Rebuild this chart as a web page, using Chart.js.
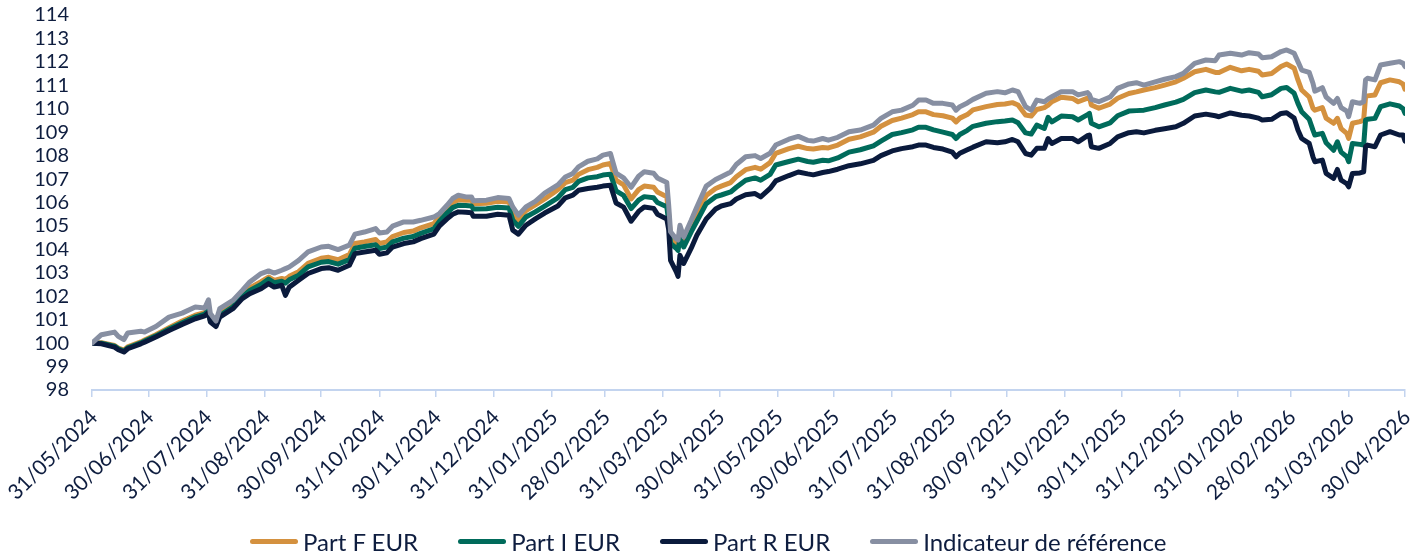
<!DOCTYPE html>
<html lang="fr">
<head>
<meta charset="utf-8">
<title>Performance base 100</title>
<script src="https://cdn.jsdelivr.net/npm/chart.js@4.4.1/dist/chart.umd.min.js"></script>
<style>
  html, body { margin: 0; padding: 0; background: #fff; }
  #wrap { position: relative; width: 1424px; height: 555px; }
  #legend {
    position: absolute; left: 250px; top: 526px; height: 30px;
    display: flex; align-items: center;
    font: 24px Lato, sans-serif; color: #0e1d3f; white-space: nowrap;
  }
  .item { display: flex; align-items: center; margin-right: 40px; }
  .swatch { width: 48px; height: 5px; border-radius: 3px; margin-right: 5px; }
</style>
</head>
<body>
<div id="wrap">
  <canvas id="chart"></canvas>
  <div id="legend"></div>
</div>
<script>
// Dates des points relevés (jj/mm/aaaa)
const dates = [
  // juin 2024 -> janvier 2025
  '31/05/2024','05/06/2024','12/06/2024','14/06/2024','17/06/2024','19/06/2024','26/06/2024','28/06/2024','04/07/2024','11/07/2024',
  '18/07/2024','25/07/2024','30/07/2024','01/08/2024','02/08/2024','05/08/2024','07/08/2024','14/08/2024','19/08/2024','23/08/2024',
  '29/08/2024','02/09/2024','05/09/2024','09/09/2024','11/09/2024','13/09/2024','18/09/2024','23/09/2024','30/09/2024','04/10/2024',
  '09/10/2024','15/10/2024','18/10/2024','23/10/2024','29/10/2024','31/10/2024','04/11/2024','07/11/2024','13/11/2024','18/11/2024',
  '22/11/2024','29/11/2024','02/12/2024','06/12/2024','09/12/2024','12/12/2024','16/12/2024','19/12/2024','20/12/2024','27/12/2024',
  '02/01/2025','08/01/2025','10/01/2025','13/01/2025','17/01/2025','22/01/2025',
  // fin janvier 2025 -> mi-septembre 2025
  '27/01/2025','03/02/2025','07/02/2025','11/02/2025','14/02/2025','19/02/2025','24/02/2025','27/02/2025','03/03/2025','06/03/2025',
  '10/03/2025','14/03/2025','18/03/2025','21/03/2025','26/03/2025','28/03/2025','02/04/2025','03/04/2025','04/04/2025','07/04/2025',
  '08/04/2025','09/04/2025','11/04/2025','15/04/2025','18/04/2025','23/04/2025','28/04/2025','01/05/2025','06/05/2025','09/05/2025',
  '14/05/2025','19/05/2025','22/05/2025','27/05/2025','30/05/2025','06/06/2025','11/06/2025','16/06/2025','19/06/2025','24/06/2025',
  '27/06/2025','02/07/2025','08/07/2025','14/07/2025','21/07/2025','25/07/2025','31/07/2025','05/08/2025','11/08/2025','14/08/2025',
  '18/08/2025','22/08/2025','27/08/2025','01/09/2025','03/09/2025','05/09/2025','09/09/2025','12/09/2025',
  // mi-septembre 2025 -> avril 2026
  '19/09/2025','25/09/2025','29/09/2025','03/10/2025','06/10/2025','10/10/2025','13/10/2025','16/10/2025','20/10/2025','22/10/2025',
  '24/10/2025','29/10/2025','04/11/2025','07/11/2025','12/11/2025','13/11/2025','14/11/2025','18/11/2025','24/11/2025','28/11/2025',
  '04/12/2025','08/12/2025','12/12/2025','18/12/2025','23/12/2025','29/12/2025','02/01/2026','08/01/2026','14/01/2026','19/01/2026',
  '21/01/2026','27/01/2026','02/02/2026','06/02/2026','11/02/2026','13/02/2026','18/02/2026','23/02/2026','26/02/2026','02/03/2026',
  '04/03/2026','06/03/2026','10/03/2026','12/03/2026','13/03/2026','17/03/2026','19/03/2026','23/03/2026','25/03/2026','27/03/2026',
  '30/03/2026','31/03/2026','02/04/2026','06/04/2026','08/04/2026','09/04/2026','10/04/2026','14/04/2026','17/04/2026','22/04/2026',
  '27/04/2026','29/04/2026','30/04/2026'
];

const partF = [
  100.00, 100.02, 99.90, 99.79, 99.70, 99.84, 100.05, 100.13, 100.36, 100.66,
  100.94, 101.19, 101.30, 101.50, 101.00, 100.82, 101.24, 101.62, 102.05, 102.35,
  102.62, 102.82, 102.68, 102.76, 102.72, 102.85, 103.05, 103.40, 103.62, 103.66,
  103.56, 103.78, 104.25, 104.32, 104.42, 104.25, 104.32, 104.55, 104.72, 104.78,
  104.92, 105.10, 105.40, 105.75, 106.00, 106.12, 106.10, 106.10, 105.95, 105.97,
  106.05, 106.02, 105.55, 105.25, 105.65, 105.90,
  106.15, 106.55, 106.85, 106.95, 107.20, 107.40, 107.50, 107.60, 107.67, 106.95,
  106.75, 106.15, 106.55, 106.70, 106.65, 106.45, 106.25, 105.50, 104.50, 104.25,
  104.20, 104.80, 104.35, 105.10, 105.55, 106.30, 106.60, 106.70, 106.85, 107.10,
  107.40, 107.50, 107.42, 107.70, 108.10, 108.30, 108.40, 108.30, 108.28, 108.35,
  108.33, 108.45, 108.70, 108.80, 109.00, 109.25, 109.50, 109.60, 109.75, 109.87,
  109.87, 109.75, 109.70, 109.60, 109.44, 109.60, 109.75, 109.95,
  110.09, 110.18, 110.20, 110.26, 110.16, 109.73, 109.69, 109.97, 110.05, 110.15,
  110.30, 110.49, 110.44, 110.30, 110.45, 110.49, 110.16, 110.02, 110.20, 110.45,
  110.65, 110.72, 110.80, 110.90, 111.01, 111.15, 111.30, 111.58, 111.68, 111.55,
  111.55, 111.77, 111.62, 111.68, 111.60, 111.44, 111.50, 111.80, 111.91, 111.73,
  111.23, 110.80, 110.50, 110.02, 109.94, 110.05, 109.60, 109.38, 109.59, 109.15,
  108.95, 108.73, 109.38, 109.45, 109.52, 110.51, 110.55, 110.59, 111.11, 111.23,
  111.15, 111.05, 110.83
];

const partI = [
  100.00, 100.00, 99.87, 99.76, 99.66, 99.80, 100.01, 100.09, 100.31, 100.60,
  100.87, 101.12, 101.24, 101.42, 100.95, 100.77, 101.18, 101.55, 101.98, 102.25,
  102.50, 102.73, 102.58, 102.64, 102.56, 102.70, 102.90, 103.25, 103.45, 103.48,
  103.37, 103.56, 104.05, 104.12, 104.20, 104.03, 104.10, 104.32, 104.48, 104.55,
  104.68, 104.88, 105.20, 105.55, 105.78, 105.88, 105.87, 105.85, 105.72, 105.73,
  105.80, 105.77, 105.25, 104.98, 105.38, 105.60,
  105.85, 106.20, 106.55, 106.65, 106.90, 107.05, 107.10, 107.17, 107.21, 106.50,
  106.30, 105.74, 106.10, 106.25, 106.20, 106.00, 105.82, 105.20, 104.25, 104.05,
  103.95, 104.50, 104.10, 104.75, 105.20, 105.95, 106.25, 106.32, 106.45, 106.65,
  106.95, 107.05, 106.95, 107.20, 107.60, 107.75, 107.85, 107.75, 107.72, 107.80,
  107.78, 107.90, 108.15, 108.25, 108.42, 108.62, 108.90, 108.98, 109.10, 109.21,
  109.21, 109.10, 109.00, 108.90, 108.73, 108.90, 109.08, 109.25,
  109.38, 109.45, 109.48, 109.52, 109.40, 108.97, 108.92, 109.30, 109.16, 109.63,
  109.44, 109.69, 109.66, 109.52, 109.75, 109.80, 109.38, 109.23, 109.40, 109.70,
  109.90, 109.92, 109.94, 110.05, 110.16, 110.28, 110.40, 110.69, 110.80, 110.72,
  110.70, 110.87, 110.75, 110.80, 110.70, 110.51, 110.60, 110.87, 110.91, 110.66,
  110.23, 109.87, 109.55, 109.09, 108.88, 108.95, 108.55, 108.23, 108.59, 108.15,
  107.95, 107.74, 108.52, 108.48, 108.45, 109.52, 109.55, 109.59, 110.09, 110.21,
  110.12, 110.00, 109.80
];

const partR = [
  100.00, 99.97, 99.83, 99.72, 99.62, 99.76, 99.97, 100.04, 100.26, 100.54,
  100.80, 101.04, 101.16, 101.30, 100.90, 100.71, 101.11, 101.47, 101.90, 102.11,
  102.32, 102.54, 102.39, 102.47, 102.04, 102.39, 102.68, 102.97, 103.18, 103.22,
  103.11, 103.32, 103.82, 103.89, 103.96, 103.79, 103.85, 104.10, 104.25, 104.32,
  104.46, 104.65, 105.00, 105.30, 105.50, 105.60, 105.58, 105.56, 105.41, 105.41,
  105.50, 105.46, 104.82, 104.65, 105.03, 105.30,
  105.55, 105.85, 106.20, 106.31, 106.52, 106.60, 106.65, 106.70, 106.74, 105.98,
  105.80, 105.20, 105.62, 105.81, 105.75, 105.50, 105.30, 104.85, 103.53, 103.05,
  102.85, 103.75, 103.40, 104.05, 104.60, 105.30, 105.72, 105.85, 105.95, 106.15,
  106.33, 106.38, 106.24, 106.60, 106.92, 107.15, 107.30, 107.22, 107.18, 107.28,
  107.32, 107.42, 107.57, 107.65, 107.80, 108.00, 108.20, 108.30, 108.38, 108.45,
  108.45, 108.35, 108.28, 108.15, 107.95, 108.10, 108.25, 108.36,
  108.59, 108.55, 108.59, 108.69, 108.59, 108.09, 108.02, 108.31, 108.31, 108.73,
  108.52, 108.73, 108.73, 108.59, 108.85, 108.88, 108.38, 108.31, 108.52, 108.80,
  108.98, 109.02, 108.97, 109.08, 109.15, 109.23, 109.38, 109.69, 109.77, 109.70,
  109.66, 109.82, 109.72, 109.69, 109.60, 109.52, 109.55, 109.80, 109.83, 109.60,
  109.09, 108.73, 108.52, 107.95, 107.74, 107.81, 107.24, 107.03, 107.41, 106.95,
  106.80, 106.67, 107.24, 107.26, 107.31, 108.38, 108.45, 108.38, 108.88, 109.02,
  108.88, 108.88, 108.62
];

const indicateur = [
  100.00, 100.36, 100.47, 100.29, 100.15, 100.43, 100.51, 100.47, 100.71, 101.11,
  101.28, 101.54, 101.50, 101.85, 101.26, 100.94, 101.47, 101.82, 102.25, 102.61,
  102.97, 103.08, 102.99, 103.11, 103.18, 103.25, 103.53, 103.89, 104.10, 104.13,
  103.99, 104.18, 104.65, 104.74, 104.89, 104.70, 104.74, 104.99, 105.17, 105.17,
  105.24, 105.38, 105.53, 105.88, 106.17, 106.31, 106.24, 106.24, 106.07, 106.10,
  106.21, 106.17, 105.81, 105.46, 105.81, 106.05,
  106.40, 106.75, 107.09, 107.24, 107.52, 107.76, 107.86, 108.02, 108.09, 107.25,
  107.05, 106.65, 107.12, 107.31, 107.25, 107.05, 106.85, 105.90, 104.75, 104.45,
  104.40, 105.03, 104.53, 105.24, 105.81, 106.70, 106.98, 107.10, 107.30, 107.62,
  107.95, 108.00, 107.88, 108.10, 108.45, 108.70, 108.82, 108.65, 108.62, 108.73,
  108.66, 108.78, 109.02, 109.09, 109.30, 109.59, 109.87, 109.94, 110.15, 110.37,
  110.37, 110.23, 110.23, 110.16, 109.94, 110.09, 110.25, 110.40,
  110.66, 110.73, 110.68, 110.80, 110.73, 110.09, 109.94, 110.37, 110.30, 110.42,
  110.51, 110.73, 110.73, 110.59, 110.69, 110.60, 110.40, 110.30, 110.50, 110.87,
  111.06, 111.11, 111.01, 111.15, 111.26, 111.37, 111.51, 111.94, 112.08, 112.05,
  112.29, 112.37, 112.29, 112.39, 112.34, 112.18, 112.22, 112.44, 112.51, 112.37,
  112.01, 111.65, 111.55, 111.09, 110.75, 110.90, 110.50, 110.23, 110.44, 110.05,
  109.90, 109.66, 110.30, 110.23, 110.30, 111.23, 111.30, 111.23, 111.87, 111.94,
  112.01, 111.94, 111.80
];

// Graduations de l'axe des dates (fins de mois)
const tickLabels = [
  '31/05/2024','30/06/2024','31/07/2024','31/08/2024','30/09/2024','31/10/2024','30/11/2024','31/12/2024',
  '31/01/2025','28/02/2025','31/03/2025','30/04/2025','31/05/2025','30/06/2025','31/07/2025','31/08/2025',
  '30/09/2025','31/10/2025','30/11/2025','31/12/2025','31/01/2026','28/02/2026','31/03/2026','30/04/2026'
];

const seriesNames = ['Part F EUR', 'Part I EUR', 'Part R EUR', 'Indicateur de référence'];
const seriesColors = ['#d4913f', '#006b5b', '#0a1a3c', '#878fa2'];
const seriesValues = [partF, partI, partR, indicateur];

const textColor = '#0e1d3f';
const axisColor = '#c3d4ef';

// nombre de jours depuis le 31/05/2024
function dayIndex(label) {
  const [d, m, y] = label.split('/').map(Number);
  return Math.round((Date.UTC(y, m - 1, d) - Date.UTC(2024, 4, 31)) / 86400000);
}

const days = dates.map(dayIndex);
const tickDays = tickLabels.map(dayIndex);

const datasets = seriesValues.map((values, i) => ({
  label: seriesNames[i],
  data: values.map((v, j) => ({ x: days[j], y: v })),
  borderColor: seriesColors[i],
  backgroundColor: seriesColors[i],
  borderWidth: 5,
  borderJoinStyle: 'round',
  borderCapStyle: 'round',
  pointRadius: 0,
  tension: 0,
  // the reference index sits on top, then R, I, F
  order: seriesValues.length - i
}));

new Chart(document.getElementById('chart'), {
  type: 'line',
  data: { datasets },
  options: {
    responsive: true,
    maintainAspectRatio: false,
    animation: false,
    layout: { padding: { top: 15, right: 19, bottom: 0, left: 0 } },
    plugins: {
      legend: { display: false },
      tooltip: { enabled: false }
    },
    scales: {
      x: {
        type: 'linear',
        min: 0,
        max: tickDays[tickDays.length - 1],
        afterFit: (scale) => {
          // fixed band under the plot; label overflow is handled by the layout padding
          scale.height = 165;
          scale.paddingLeft = 0;
          scale.paddingRight = 0;
        },
        afterBuildTicks: (scale) => {
          scale.ticks = tickDays.map(v => ({ value: v }));
        },
        grid: {
          drawOnChartArea: false,
          drawTicks: true,
          tickLength: 7,
          color: axisColor,
          lineWidth: 1.5
        },
        border: { display: true, color: axisColor, width: 2 },
        ticks: {
          autoSkip: false,
          minRotation: 45,
          maxRotation: 45,
          padding: 8,
          labelOffset: 2,
          color: textColor,
          font: { family: 'Lato', size: 21 },
          callback: (value) => {
            const k = tickDays.indexOf(value);
            return k >= 0 ? tickLabels[k] : '';
          }
        }
      },
      y: {
        min: 98,
        max: 114,
        afterFit: (scale) => {
          scale.width = 92;
          scale.paddingTop = 0;
          scale.paddingBottom = 0;
        },
        grid: { display: false, drawTicks: false },
        border: { display: false },
        ticks: {
          stepSize: 1,
          autoSkip: false,
          padding: 23,
          color: textColor,
          font: { family: 'Lato', size: 20 }
        }
      }
    }
  }
});

// Légende sous le graphique
const legendEl = document.getElementById('legend');
seriesNames.forEach((name, i) => {
  const item = document.createElement('div');
  item.className = 'item';
  const swatch = document.createElement('span');
  swatch.className = 'swatch';
  swatch.style.background = seriesColors[i];
  const text = document.createElement('span');
  text.textContent = name;
  item.appendChild(swatch);
  item.appendChild(text);
  legendEl.appendChild(item);
});
</script>
</body>
</html>
